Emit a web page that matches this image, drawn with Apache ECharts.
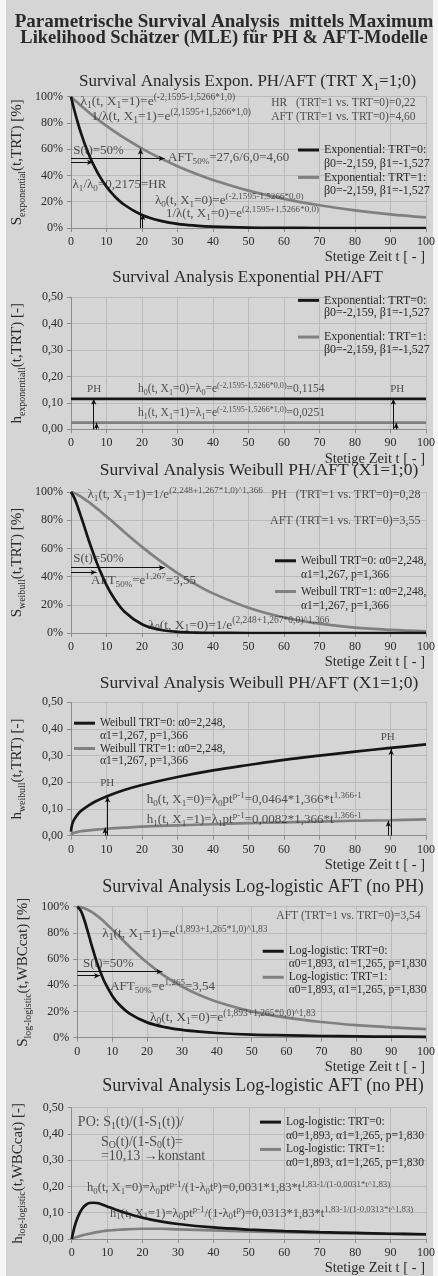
<!DOCTYPE html>
<html>
<head>
<meta charset="utf-8">
<script src="https://cdn.jsdelivr.net/npm/echarts@6/dist/echarts.min.js"></script>
<style>
  html, body { margin: 0; padding: 0; background: #f6f6f6; }
  #bg { position: absolute; left: 6px; top: 0; width: 427px; height: 1276px; background: #d5d5d5; }
  #chart { position: absolute; left: 0; top: 0; width: 438px; height: 1276px; }
</style>
</head>
<body>
<div id="bg"></div>
<div id="chart"></div>
<script>
// ---- data ----
const tExp = [0, 1, 2, 3, 4, 5, 6, 8, 10, 12, 15, 20, 25, 30, 35, 40, 50, 60, 70, 80, 90, 100];
const sExp0 = [100, 89.1, 79.4, 70.7, 63.0, 56.2, 50.0, 39.7, 31.5, 25.0, 17.7, 9.9, 5.6, 3.1, 1.8, 1.0, 0.3, 0.1, 0, 0, 0, 0];
const sExp1 = [100, 97.5, 95.1, 92.7, 90.4, 88.2, 86.0, 81.8, 77.8, 74.0, 68.6, 60.5, 53.4, 47.1, 41.5, 36.6, 28.5, 22.2, 17.3, 13.4, 10.4, 8.1];

const tConst = [0, 100];
const hExp0 = [0.1154, 0.1154];
const hExp1 = [0.0251, 0.0251];

const tWei = [0, 1, 2, 3, 4, 5, 6, 7, 8, 10, 12, 15, 20, 25, 30, 35, 40, 50, 60, 70, 80, 90, 100];
const sWei0 = [100, 95.5, 88.7, 81.2, 73.5, 65.8, 58.5, 51.6, 45.2, 34.0, 25.1, 15.3, 6.2, 2.3, 0.8, 0.3, 0.1, 0, 0, 0, 0, 0, 0];
const sWei1 = [100, 99.2, 97.9, 96.4, 94.7, 92.9, 90.9, 88.9, 86.9, 82.6, 78.3, 71.7, 61.1, 51.3, 42.5, 34.7, 28.1, 17.9, 11.0, 6.6, 3.8, 2.2, 1.2];

const tWeiH = [0, 0.2, 0.5, 1, 2, 3, 5, 7, 10, 15, 20, 30, 40, 50, 60, 70, 80, 90, 100];
const hWei0 = [0.015, 0.035, 0.049, 0.063, 0.082, 0.095, 0.114, 0.129, 0.147, 0.171, 0.190, 0.220, 0.245, 0.265, 0.284, 0.300, 0.315, 0.329, 0.342];
const hWei1 = [0.003, 0.006, 0.009, 0.011, 0.015, 0.017, 0.020, 0.023, 0.026, 0.030, 0.034, 0.039, 0.043, 0.047, 0.050, 0.053, 0.056, 0.058, 0.061];

const tLog = [0, 1, 2, 3, 4, 5, 6, 7, 8, 10, 12, 15, 20, 25, 30, 35, 40, 50, 60, 70, 80, 90, 100];
const sLog0 = [100, 97.0, 90.0, 81.1, 71.6, 62.7, 54.6, 47.6, 41.6, 32.1, 25.3, 18.4, 11.7, 8.1, 6.0, 4.6, 3.6, 2.4, 1.8, 1.3, 1.0, 0.8, 0.7];
const sLog1 = [100, 99.7, 98.9, 97.7, 96.2, 94.4, 92.4, 90.2, 87.8, 82.7, 77.4, 69.5, 57.4, 47.2, 39.1, 32.6, 27.5, 20.1, 15.3, 12.0, 9.6, 7.9, 6.6];

const tLogH = [0, 1, 2, 3, 4, 5, 6, 7, 8, 10, 12, 15, 20, 25, 30, 40, 50, 60, 70, 80, 90, 100];
const hLog0 = [0, 0.056, 0.092, 0.116, 0.130, 0.137, 0.138, 0.137, 0.134, 0.124, 0.114, 0.100, 0.081, 0.067, 0.057, 0.044, 0.036, 0.030, 0.026, 0.023, 0.020, 0.018];
const hLog1 = [0, 0.006, 0.010, 0.014, 0.017, 0.020, 0.023, 0.026, 0.028, 0.032, 0.034, 0.037, 0.039, 0.039, 0.037, 0.033, 0.029, 0.026, 0.023, 0.021, 0.019, 0.017];

const xTicks = { min: 0, max: 100, step: 10 };
const legendSub = {
  "Exponential: TRT=0:": "β0=-2,159, β1=-1,527",
  "Exponential: TRT=1:": "β0=-2,159, β1=-1,527",
  "Weibull TRT=0: α0=2,248,": "α1=1,267, p=1,366",
  "Weibull TRT=1: α0=2,248,": "α1=1,267, p=1,366",
  "Log-logistic: TRT=0:": "α0=1,893, α1=1,265, p=1,830",
  "Log-logistic: TRT=1:": "α0=1,893, α1=1,265, p=1,830",
};

// annotations: [t, y, text, anchor(l/r/c), fontSize]   _x = subscript, ^x = superscript
const notes1 = [
  [2.5, 96.7, "λ_1(t, X_1=1)=e^{(-2,1595-1,5266*1,0)}", "l", 13.5],
  [5.6, 85.3, "1/λ(t, X_1=1)=e^{(2,1595+1,5266*1,0)}", "l", 13.5],
  [97.2, 95.0, "HR   (TRT=1 vs. TRT=0)=0,22", "r", 11.5],
  [97.2, 84.8, "AFT (TRT=1 vs. TRT=0)=4,60", "r", 11.5],
  [0.5, 58.9, "S(t)=50%", "l", 13],
  [27.2, 53.3, "AFT_{50%}=27,6/6,0=4,60", "l", 13],
  [0.3, 32.7, "λ_1/λ_0=0,2175=HR", "l", 13],
  [23.5, 20.8, "λ_0(t, X_1=0)=e^{(-2,1595-1,5266*0,0)}", "l", 13],
  [26.6, 10.7, "1/λ(t, X_1=0)=e^{(2,1595+1,5266*0,0)}", "l", 13],
];
const arrows1 = [[0, 50, 6.2, 50], [0, 53, 26.4, 53], [19.6, 0, 19.6, 60.5], [20.2, 0, 20.2, 10.5]];

const notes2 = [
  [6.5, 0.151, "PH", "c", 11],
  [91.9, 0.151, "PH", "c", 11],
  [18.7, 0.151, "h_0(t, X_1=0)=λ_0=e^{(-2,1595-1,5266*0,0)}=0,1154", "l", 11.6],
  [18.7, 0.061, "h_1(t, X_1=1)=λ_1=e^{(-2,1595-1,5266*1,0)}=0,0251", "l", 11.6],
];
const arrows2 = [[6.4, 0, 6.4, 0.1154], [7.2, 0, 7.2, 0.0251], [90.8, 0, 90.8, 0.1154], [91.6, 0, 91.6, 0.0251]];

const notes3 = [
  [4.5, 97.9, "λ_1(t, X_1=1)=1/e^{(2,248+1,267*1,0)^1,366}", "l", 13.2],
  [98.6, 97.9, "PH   (TRT=1 vs. TRT=0)=0,28", "r", 12],
  [98.6, 79.4, "AFT (TRT=1 vs. TRT=0)=3,55", "r", 12],
  [0.5, 53.0, "S(t)=50%", "l", 13],
  [5.5, 36.9, "AFT_{50%}=e^{1,267}=3,55", "l", 13],
  [21.7, 5.7, "λ_0(t, X_1=0)=1/e^{(2,248+1,267*0,0)^1,366}", "l", 13.5],
];
const arrows3 = [[0, 46.3, 26.4, 46.3], [0, 43, 7.2, 43]];

const notes4 = [
  [89.2, 0.371, "PH", "c", 11],
  [10.2, 0.196, "PH", "c", 11],
  [21.2, 0.134, "h_0(t, X_1=0)=λ_0pt^{p-1}=0,0464*1,366*t^{1,366-1}", "l", 13],
  [21.2, 0.061, "h_1(t, X_1=1)=λ_1pt^{p-1}=0,0082*1,366*t^{1,366-1}", "l", 13],
];
const arrows4 = [[90.2, 0, 90.2, 0.325], [89.4, 0, 89.4, 0.056], [10.3, 0, 10.3, 0.147], [9.6, 0, 9.6, 0.03]];

const notes5 = [
  [98.6, 92.9, "AFT (TRT=1 vs. TRT=0)=3,54", "r", 11.5],
  [7.0, 79.7, "λ_1(t, X_1=1)=e^{(1,893+1,265*1,0)^1,83}", "l", 13.5],
  [1.5, 56.8, "S(t)=50%", "l", 13],
  [9.3, 38.9, "AFT_{50%}=e^{1,265}=3,54", "l", 13],
  [20.7, 15.6, "λ_0(t, X_1=0)=e^{(1,893+1,265*0,0)^1,83}", "l", 13.5],
];
const arrows5 = [[0, 50.4, 24.4, 50.4], [0, 47.3, 6.5, 47.3]];

const notes6 = [
  [1.6, 0.444, "PO: S_1(t)/(1-S_1(t))/", "l", 14],
  [8.1, 0.370, "S_O(t)/(1-S_0(t)=", "l", 14],
  [8.1, 0.316, "=10,13 →konstant", "l", 14],
  [4.2, 0.195, "h_0(t, X_1=0)=λ_0pt^{p-1}/(1-λ_0t^p)=0,0031*1,83*t^{1,83-1/(1-0,0031*t^1,83)}", "l", 12.5],
  [10.7, 0.0975, "h_1(t, X_1=1)=λ_0pt^{p-1}/(1-λ_0t^p)=0,0313*1,83*t^{1,83-1/(1-0,0313*t^1,83)}", "l", 12.5],
];

// ---- styling ----
const FONT = "Liberation Serif";
const TXT = "#2a2a2a";
const C0 = "#151515", C1 = "#808080";
const GRIDC = "#bababa", AXC = "#8c8c8c";

function zip(t, v) { return t.map((x, i) => [x, v[i]]); }

// "λ_1(t)^{..}" -> echarts rich text
function rt(s) {
  let out = "", buf = "", i = 0;
  const flush = () => { if (buf) { out += "{n|" + buf + "}"; buf = ""; } };
  while (i < s.length) {
    const c = s[i];
    if (c === "_" || c === "^") {
      flush();
      let seg;
      if (s[i + 1] === "{") { const j = s.indexOf("}", i + 2); seg = s.slice(i + 2, j); i = j + 1; }
      else { seg = s[i + 1]; i += 2; }
      out += "{" + (c === "_" ? "sb" : "sp") + "|" + seg + "}";
    } else { buf += c; i++; }
  }
  flush();
  return out;
}
function richStyles(f, ratio) {
  const s = Math.round(f * (ratio || 0.7) * 10) / 10;
  return {
    n: { fontSize: f, lineHeight: Math.round(f * 1.3), fontFamily: FONT, color: TXT, fill: TXT },
    sb: { fontSize: s, lineHeight: s, verticalAlign: "bottom", fontFamily: FONT, color: TXT, fill: TXT },
    sp: { fontSize: s, lineHeight: s, verticalAlign: "top", fontFamily: FONT, color: TXT, fill: TXT },
  };
}

const panels = [
  { box: [71, 96.7, 357, 131.3], max: 100, step: 20, pct: true, yName: "S_{exponential}(t,TRT) [%]",
    lines: [["Exponential: TRT=0:", tExp, sExp0], ["Exponential: TRT=1:", tExp, sExp1]],
    notes: notes1, arrows: arrows1, title: "Survival Analysis Expon. PH/AFT (TRT X_1=1;0)", tpos: [247.5, 82], tfs: 17,
    leg: [[298, 149.3], [298, 176.7]], legLh: 13.4, legFs: 12 },
  { box: [71, 297.3, 357, 132], max: 0.5, step: 0.1, pct: false, yName: "h_{exponentiall}(t,TRT) [-]",
    lines: [["Exponential: TRT=0:", tConst, hExp0], ["Exponential: TRT=1:", tConst, hExp1]],
    notes: notes2, arrows: arrows2, title: "Survival Analysis Exponential PH/AFT", tpos: [247.5, 278], tfs: 17,
    leg: [[298, 300], [298, 336.7]], legLh: 12.7, legFs: 12 },
  { box: [71, 492, 357, 141], max: 100, step: 20, pct: true, yName: "S_{weibull}(t,TRT) [%]",
    lines: [["Weibull TRT=0: α0=2,248,", tWei, sWei0], ["Weibull TRT=1: α0=2,248,", tWei, sWei1]],
    notes: notes3, arrows: arrows3, title: "Survival Analysis Weibull PH/AFT (X1=1;0)", tpos: [259, 470], tfs: 17.5,
    leg: [[275, 559.3], [275, 590]], legLh: 14.5, legFs: 11.5 },
  { box: [71, 702.3, 357, 133.4], max: 0.5, step: 0.1, pct: false, yName: "h_{weibull}(t,TRT) [-]",
    lines: [["Weibull TRT=0: α0=2,248,", tWeiH, hWei0], ["Weibull TRT=1: α0=2,248,", tWeiH, hWei1]],
    notes: notes4, arrows: arrows4, title: "Survival Analysis Weibull PH/AFT (X1=1;0)", tpos: [259, 683], tfs: 17.5,
    leg: [[74, 722.7], [74, 748]], legLh: 12.5, legFs: 11.5 },
  { box: [77.3, 906.7, 350.7, 131], max: 100, step: 20, pct: true, yName: "S_{log-logistic}(t,WBCcat) [%]",
    lines: [["Log-logistic: TRT=0:", tLog, sLog0], ["Log-logistic: TRT=1:", tLog, sLog1]],
    notes: notes5, arrows: arrows5, title: "Survival Analysis Log-logistic AFT (no PH)", tpos: [263, 887], tfs: 18,
    leg: [[262.7, 950.7], [262.7, 976.7]], legLh: 12.6, legFs: 11.5 },
  { box: [71.7, 1107.7, 356.3, 133.3], max: 0.5, step: 0.1, pct: false, yName: "h_{log-logistic}(t,WBCcat) [-]",
    lines: [["Log-logistic: TRT=0:", tLogH, hLog0], ["Log-logistic: TRT=1:", tLogH, hLog1]],
    notes: notes6, arrows: [], title: "Survival Analysis Log-logistic AFT (no PH)", tpos: [263, 1086], tfs: 18,
    leg: [[260, 1121], [260, 1148.3]], legLh: 13.7, legFs: 11.5 },
];

const grid = [], xAxis = [], yAxis = [], series = [], legend = [], graphic = [];

graphic.push(
  { type: "text", x: 224, y: 22.5, style: { text: "Parametrische Survival Analysis  mittels Maximum", align: "center", verticalAlign: "middle",
    font: "bold 19px 'Liberation Serif'", fill: TXT } },
  { type: "text", x: 224, y: 38.5, style: { text: "Likelihood Schätzer (MLE) für PH & AFT-Modelle", align: "center", verticalAlign: "middle",
    font: "bold 18.5px 'Liberation Serif'", fill: TXT } }
);

panels.forEach((p, i) => {
  grid.push({ left: p.box[0], top: p.box[1], width: p.box[2], height: p.box[3] });

  xAxis.push({
    gridIndex: i, type: "value", min: xTicks.min, max: xTicks.max, interval: xTicks.step,
    axisLine: { lineStyle: { color: AXC } },
    axisTick: { show: true, length: 4, lineStyle: { color: AXC } },
    axisLabel: { margin: 8, fontFamily: FONT, fontSize: 12, color: TXT },
    splitLine: { show: true, lineStyle: { color: GRIDC, width: 1 } },
    name: "Stetige Zeit t [ - ]", nameLocation: "end", nameGap: -1, nameMoveOverlap: false,
    nameTextStyle: { fontFamily: FONT, fontSize: 14.5, color: TXT, align: "right", verticalAlign: "top", padding: [22, 0, 0, 0] },
  });

  yAxis.push({
    gridIndex: i, type: "value", min: 0, max: p.max, interval: p.step,
    axisLine: { show: true, lineStyle: { color: AXC } },
    axisTick: { show: true, length: 4, lineStyle: { color: AXC } },
    axisLabel: { margin: 8, fontFamily: FONT, fontSize: 12, color: TXT,
      formatter: v => p.pct ? Math.round(v) + "%" : v.toFixed(2).replace(".", ",") },
    splitLine: { show: true, lineStyle: { color: GRIDC, width: 1 } },
    name: rt(p.yName), nameLocation: "middle", nameRotate: 90, nameGap: 44, nameMoveOverlap: false,
    nameTextStyle: { rich: richStyles(15, 0.66) },
  });

  // grey first, black on top
  [1, 0].forEach(k => {
    const [name, t, v] = p.lines[k];
    const col = k === 0 ? C0 : C1;
    series.push({
      name, type: "line", xAxisIndex: i, yAxisIndex: i, data: zip(t, v),
      symbol: "none", showSymbol: false, smooth: 0.35,
      lineStyle: { color: col, width: 2.7 }, itemStyle: { color: col }, z: k === 0 ? 4 : 3,
      silent: true,
    });
  });

  series.push({
    type: "scatter", xAxisIndex: i, yAxisIndex: i, symbolSize: 1, silent: true, z: 6,
    itemStyle: { color: "rgba(0,0,0,0)" },
    data: p.notes.map(n => ({
      value: [n[0], n[1]],
      label: { show: true, position: n[3] === "r" ? "left" : n[3] === "c" ? "inside" : "right", distance: 0,
        formatter: rt(n[2]), rich: richStyles(n[4]) },
    })),
    markLine: {
      silent: true, symbol: ["none", "arrow"], symbolSize: [4, 6], animation: false,
      lineStyle: { color: "#111", width: 1, type: "solid" }, label: { show: false },
      data: p.arrows.map(a => [{ coord: [a[0], a[1]] }, { coord: [a[2], a[3]] }]),
    },
  });

  // legend entry: blank first line keeps the swatch level with the entry's first text line
  p.lines.forEach((ln, k) => {
    const lh = p.legLh, fs = p.legFs;
    legend.push({
      data: [ln[0]], left: p.leg[k][0], top: p.leg[k][1] - lh - fs / 2, padding: 0, selectedMode: false,
      icon: "rect", itemWidth: 21, itemHeight: 3, itemGap: 0,
      formatter: n => " \n" + n + "\n" + legendSub[n],
      textStyle: { fontFamily: FONT, fontSize: fs, color: TXT, lineHeight: lh },
    });
  });

  graphic.push({ type: "text", x: p.tpos[0], y: p.tpos[1],
    style: { text: rt(p.title), rich: richStyles(p.tfs, 0.66), align: "center", verticalAlign: "middle" } });
});

const chart = echarts.init(document.getElementById("chart"), null, { renderer: "canvas", width: 438, height: 1276 });
chart.setOption({
  backgroundColor: "transparent",
  animation: false,
  textStyle: { fontFamily: FONT },
  grid, xAxis, yAxis, series, legend, graphic,
});
</script>
</body>
</html>
